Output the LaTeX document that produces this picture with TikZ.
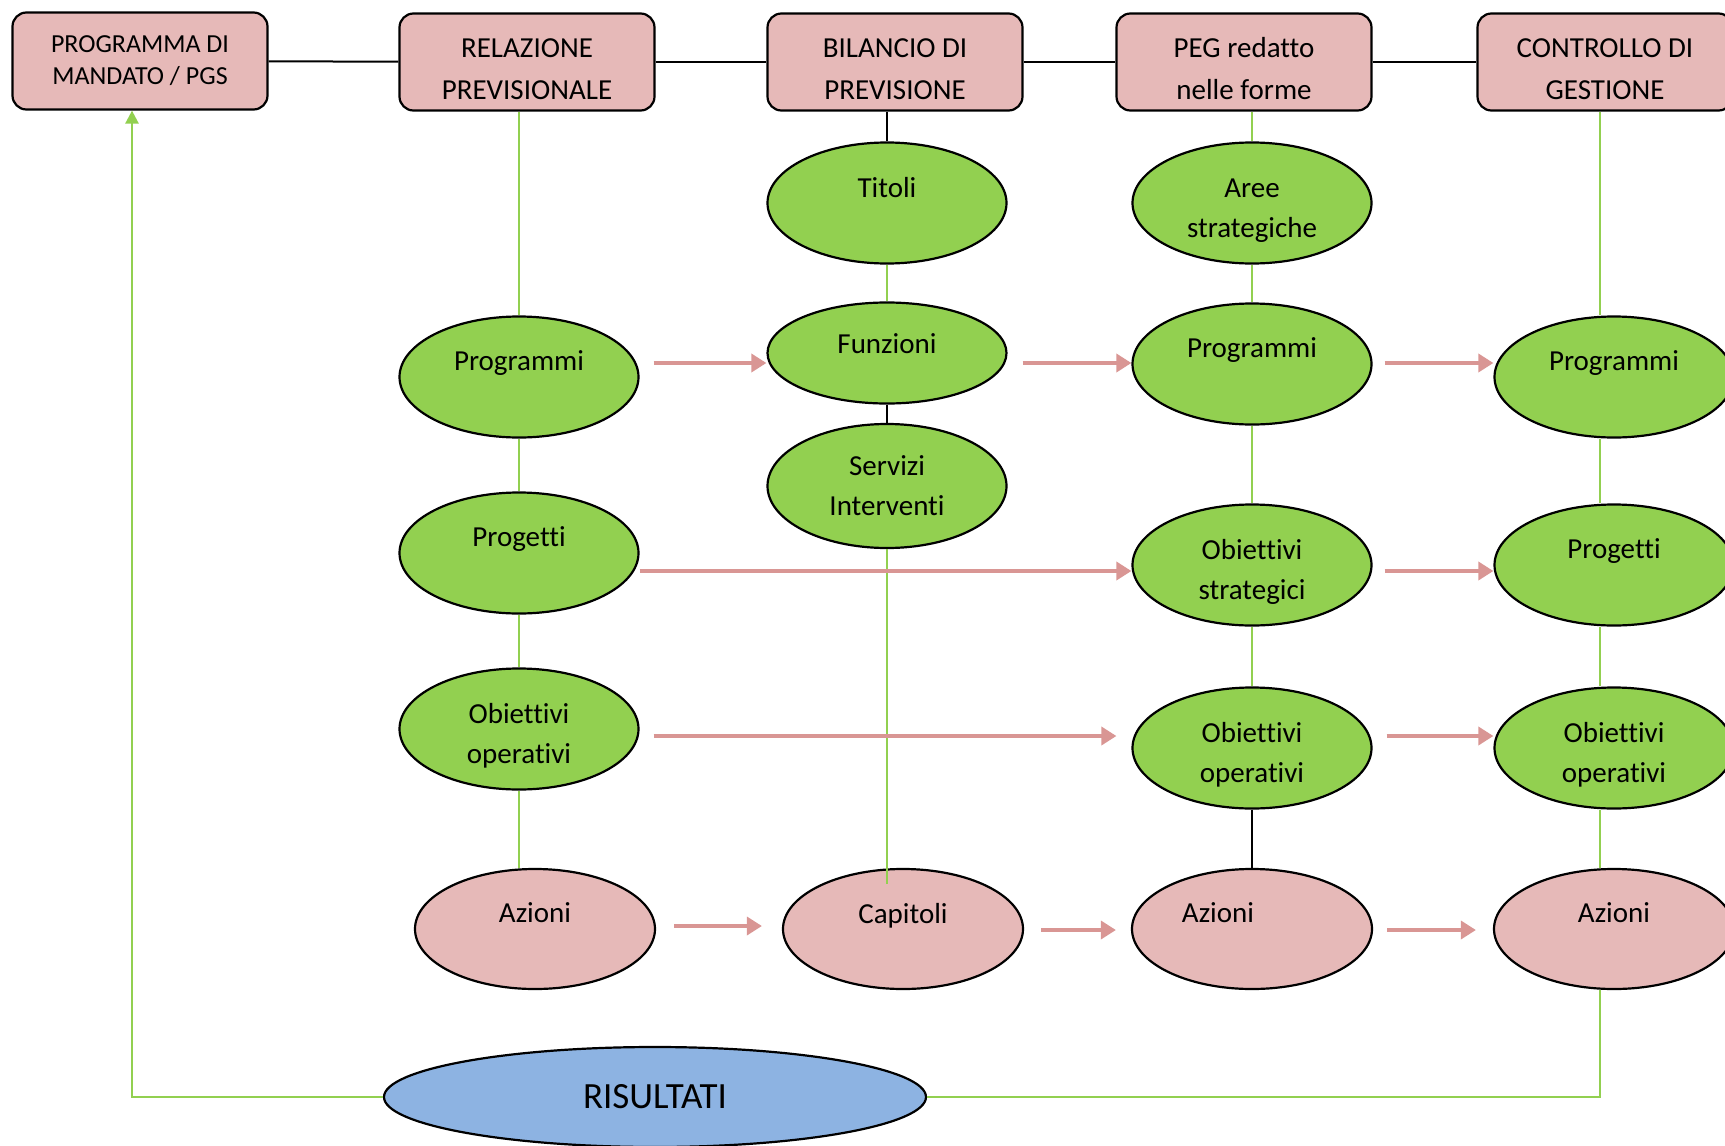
\documentclass[tikz,border=0pt]{standalone}
\usepackage{fontspec}
\setmainfont[RawFeature={-liga;-clig;-dlig;-calt}]{Carlito}
\usetikzlibrary{positioning, arrows.meta, shapes.geometric}
\definecolor{boxpink}{HTML}{E6B9B8}
\definecolor{leafgreen}{HTML}{92D050}
\definecolor{skyblue}{HTML}{8DB3E2}
\definecolor{arrowpink}{HTML}{D99694}
\newcommand{\topline}[1]{#1\\[-8pt]\mbox{}}
\newcommand{\lowline}{\rule{0pt}{33pt}}

\begin{document}
\begin{tikzpicture}[x=1pt, y=-1pt,
    docbox/.style={rectangle, rounded corners=14pt, draw, line width=2.2pt, fill=boxpink, minimum width=255pt, minimum height=97pt, align=center, font=\fontsize{29}{42}\selectfont},
    ellnode/.style={ellipse, draw, line width=2.2pt, fill=leafgreen, minimum width=239pt, minimum height=121pt, inner sep=0pt, align=center, font=\fontsize{29}{40}\selectfont},
    leafnode/.style={ellnode, fill=boxpink, minimum width=240pt, minimum height=120pt},
    glink/.style={draw=leafgreen, line width=1.8pt},
    blink/.style={draw=black, line width=2pt},
    flowarrow/.style={-{Triangle[length=15pt,width=18pt]}, draw=arrowpink, line width=3.5pt}]
    \useasboundingbox (0,0) rectangle (1725,1146);

    \node[docbox, font=\fontsize{26}{32}\selectfont] (mandato) at (140,61) {PROGRAMMA DI\\MANDATO / PGS};
    \node[docbox] (relaz) at (527,62) {\lowline RELAZIONE\\PREVISIONALE};
    \node[docbox] (bilancio) at (895,62) {\lowline BILANCIO DI\\PREVISIONE};
    \node[docbox] (peg) at (1244,62) {\lowline PEG redatto\\nelle forme};
    \node[docbox] (controllo) at (1605,62) {\lowline CONTROLLO DI\\GESTIONE};

    \draw[blink] (mandato) -- (relaz);
    \draw[blink] (relaz) -- (bilancio);
    \draw[blink] (bilancio) -- (peg);
    \draw[blink] (peg) -- (controllo);

    \node[ellnode] (progA) at (519,377) {\topline{Programmi}};
    \node[ellnode] (progetA) at (519,553) {\topline{Progetti}};
    \node[ellnode] (oboA) at (519,729) {\lowline Obiettivi\\operativi};
    \node[leafnode] (azA) at (535,929) {\topline{Azioni}};

    \node[ellnode] (titoli) at (887,203) {\topline{Titoli}};
    \node[ellnode, minimum height=101pt] (funz) at (887,353) {Funzioni\\[-22pt]\mbox{}};
    \node[ellnode, minimum height=124pt] (serv) at (887,486) {Servizi\\Interventi};
    \node[leafnode] (cap) at (903,929) {\topline{Capitoli}};

    \node[ellnode] (aree) at (1252,203) {\lowline Aree\\strategiche};
    \node[ellnode] (progC) at (1252,364) {\topline{Programmi}};
    \node[ellnode] (obsC) at (1252,565) {\lowline Obiettivi\\strategici};
    \node[ellnode] (obopC) at (1252,748) {\lowline Obiettivi\\operativi};
    \node[leafnode] (azC) at (1252,929) {\topline{Azioni\hspace*{68pt}}};

    \node[ellnode] (progD) at (1614,377) {\topline{Programmi}};
    \node[ellnode] (progetD) at (1614,565) {\topline{Progetti}};
    \node[ellnode] (obopD) at (1614,748) {\lowline Obiettivi\\operativi};
    \node[leafnode] (azD) at (1614,929) {\topline{Azioni}};

    \node[ellnode, fill=skyblue, minimum width=542pt, minimum height=100pt, font=\fontsize{37}{44}\selectfont] (ris) at (655,1097) {RISULTATI};

    \draw[glink] (progA.north |- relaz.south) -- (progA.north);
    \draw[glink] (progA) -- (progetA);
    \draw[glink] (progetA) -- (oboA);
    \draw[glink] (oboA.south) -- (oboA.south |- azA.north);

    \draw[blink] (titoli.north |- bilancio.south) -- (titoli.north);
    \draw[glink] (titoli) -- (funz);
    \draw[blink] (funz) -- (serv);
    \draw[glink] (serv.south) -- ([yshift=-16pt]serv.south |- cap.north);

    \draw[glink] (aree.north |- peg.south) -- (aree.north);
    \draw[glink] (aree) -- (progC);
    \draw[glink] (progC) -- (obsC);
    \draw[glink] (obsC) -- (obopC);
    \draw[blink] (obopC) -- (azC);

    \draw[glink] ([xshift=-14pt]progD.north |- controllo.south) -- ([xshift=-14pt]progD.north);
    \draw[glink] ([xshift=-14pt]progD.south) -- ([xshift=-14pt]progetD.north);
    \draw[glink] ([xshift=-14pt]progetD.south) -- ([xshift=-14pt]obopD.north);
    \draw[glink] ([xshift=-14pt]obopD.south) -- ([xshift=-14pt]azD.north);
    \draw[glink, line width=2.5pt] ([xshift=-14pt]azD.south) |- (ris.east);
    \draw[glink, line width=2.5pt, -{Triangle[length=13pt,width=13pt]}] (ris.west) -| ([xshift=-8pt]mandato.south);

    \draw[flowarrow] ([xshift=14pt,yshift=14pt]progA.east) -- ([yshift=-10pt]funz.west);
    \draw[flowarrow] ([xshift=15pt,yshift=-10pt]funz.east) -- ([yshift=1pt]progC.west);
    \draw[flowarrow] ([xshift=12pt,yshift=1pt]progC.east) -- ([yshift=14pt]progD.west);
    \draw[flowarrow] ([yshift=-18pt]progetA.east) -- ([yshift=-6pt]obsC.west);
    \draw[flowarrow] ([xshift=12pt,yshift=-6pt]obsC.east) -- ([yshift=-6pt]progetD.west);
    \draw[flowarrow] ([xshift=14pt,yshift=-7pt]oboA.east) -- ([xshift=-15pt,yshift=12pt]obopC.west);
    \draw[flowarrow] ([xshift=14pt,yshift=12pt]obopC.east) -- ([yshift=12pt]obopD.west);
    \draw[flowarrow] ([xshift=18pt,yshift=3pt]azA.east) -- ([xshift=-20pt,yshift=3pt]cap.west);
    \draw[flowarrow] ([xshift=17pt,yshift=-1pt]cap.east) -- ([xshift=-15pt,yshift=-1pt]azC.west);
    \draw[flowarrow] ([xshift=14pt,yshift=-1pt]azC.east) -- ([xshift=-17pt,yshift=-1pt]azD.west);
\end{tikzpicture}
\end{document}
